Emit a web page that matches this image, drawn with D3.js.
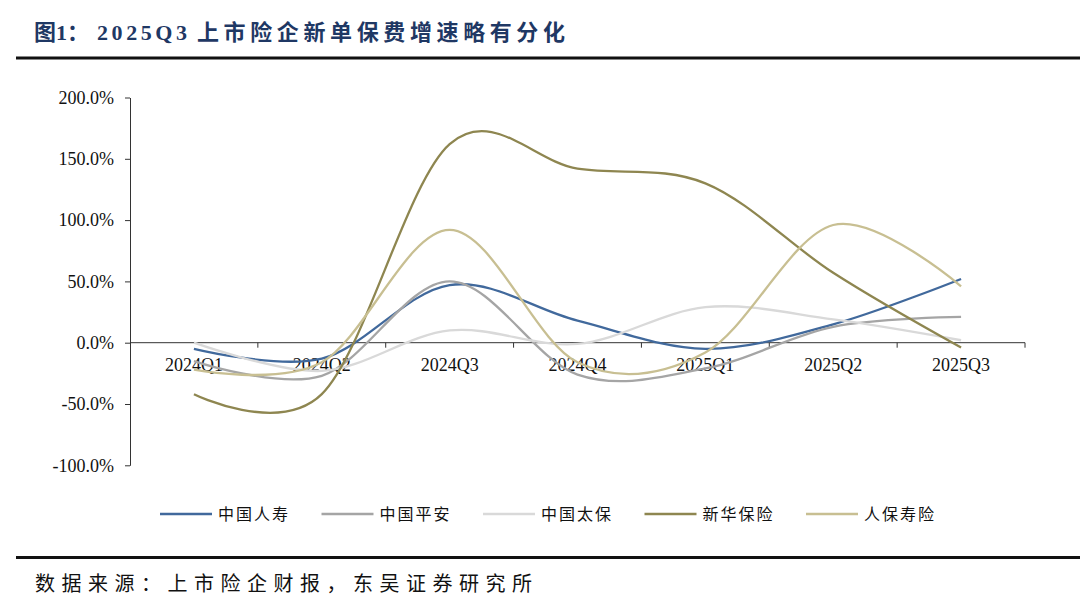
<!DOCTYPE html>
<html>
<head>
<meta charset="utf-8">
<script src="https://cdn.jsdelivr.net/npm/d3@7"></script>
<style>
  body { margin: 0; background: #fff; }
  svg { display: block; }
</style>
</head>
<body>
<div id="chart"></div>
<script>
// quarters on the x axis
var quarters = ["2024Q1", "2024Q2", "2024Q3", "2024Q4", "2025Q1", "2025Q2", "2025Q3"];

// new-business premium growth, %
var chinaLife = [-5, -13, 47, 18, -5, 15, 52];
var pingAn = [-15, -27, 50, -26, -21, 13, 21];
var cpic = [0, -23, 10, -1, 29, 19, 2];
var newChina = [-42, -42, 162, 142, 130, 57, -4];
var piccLife = [-22, -16, 92, -16, -8, 96, 46];

var seriesNames = ["中国人寿", "中国平安", "中国太保", "新华保险", "人保寿险"];
var yTicks = [-100, -50, 0, 50, 100, 150, 200];

var colors = ["#41699c", "#a5a5a5", "#d9d9d9", "#8e8650", "#c8bf92"];
var seriesValues = [chinaLife, pingAn, cpic, newChina, piccLife];

var svgWidth = 1080;
var svgHeight = 612;

var svg = d3.select("#chart")
    .append("svg")
    .attr("width", svgWidth)
    .attr("height", svgHeight);

svg.append("rect")
    .attr("width", svgWidth)
    .attr("height", svgHeight)
    .attr("fill", "#fff");

// title + rule (three pieces so the latin part keeps its own spacing)
var title = svg.append("text")
    .attr("y", 40)
    .attr("font-family", "'Liberation Serif', 'Noto Sans CJK SC', serif")
    .attr("font-weight", "bold")
    .attr("font-size", 22)
    .attr("fill", "#1f3864");

title.append("tspan").attr("x", 34).text("图1：");
title.append("tspan").attr("x", 97)
    .attr("textLength", 90).attr("lengthAdjust", "spacing")
    .text("2025Q3");
title.append("tspan").attr("x", 197)
    .attr("textLength", 368).attr("lengthAdjust", "spacing")
    .text("上市险企新单保费增速略有分化");

svg.append("rect")
    .attr("x", 16).attr("y", 56.5)
    .attr("width", svgWidth - 16).attr("height", 3)
    .attr("fill", "#111");

// scales
var x = d3.scaleBand()
    .domain(quarters)
    .range([130, 1025])
    .paddingInner(0).paddingOuter(0);

var y = d3.scaleLinear()
    .domain([-100, 200])
    .range([465.3, 97.5]);

var cx = function(q) { return x(q) + x.bandwidth() / 2; };

// y axis
var leftAxis = d3.axisLeft(y)
    .tickValues(yTicks)
    .tickSize(5)
    .tickSizeOuter(0)
    .tickPadding(11)
    .tickFormat(function(d) { return d.toFixed(1) + "%"; });

var yAxis = svg.append("g")
    .attr("transform", "translate(130,0)")
    .call(leftAxis);

yAxis.selectAll("text")
    .attr("font-family", "'Liberation Serif', serif")
    .attr("font-size", 18)
    .attr("fill", "#111");
yAxis.selectAll("line, path").attr("stroke", "#333");

// x axis at 0%, labels only, ticks between categories
var bottomAxis = d3.axisBottom(x)
    .tickSize(0)
    .tickSizeOuter(0)
    .tickPadding(16);

var xAxis = svg.append("g")
    .attr("transform", "translate(0," + y(0) + ")")
    .call(bottomAxis);

xAxis.select(".domain").remove();
xAxis.selectAll("text")
    .attr("font-family", "'Liberation Serif', serif")
    .attr("font-size", 18)
    .attr("fill", "#111");

svg.append("line")
    .attr("x1", 130).attr("x2", 1025)
    .attr("y1", y(0)).attr("y2", y(0))
    .attr("stroke", "#333");

var boundaries = quarters.slice(1).map(function(q) { return x(q); });
boundaries.push(x(quarters[quarters.length - 1]) + x.bandwidth());

svg.selectAll(".xtick")
    .data(boundaries)
    .enter()
    .append("line")
    .attr("class", "xtick")
    .attr("x1", function(d) { return d; })
    .attr("x2", function(d) { return d; })
    .attr("y1", y(0))
    .attr("y2", y(0) + 5)
    .attr("stroke", "#333");

// smoothed lines
var line = d3.line()
    .x(function(d, i) { return cx(quarters[i]); })
    .y(function(d) { return y(d); })
    .curve(d3.curveCardinal.tension(0));

svg.selectAll(".series")
    .data(seriesValues)
    .enter()
    .append("path")
    .attr("class", "series")
    .attr("d", function(d) { return line(d); })
    .attr("fill", "none")
    .attr("stroke", function(d, i) { return colors[i]; })
    .attr("stroke-width", 2.3);

// legend
var legend = svg.selectAll(".legend")
    .data(seriesNames)
    .enter()
    .append("g")
    .attr("class", "legend")
    .attr("transform", function(d, i) { return "translate(" + (160 + i * 161.5) + ",514)"; });

legend.append("line")
    .attr("x1", 0).attr("x2", 52)
    .attr("y1", 0).attr("y2", 0)
    .attr("stroke", function(d, i) { return colors[i]; })
    .attr("stroke-width", 2.5);

legend.append("text")
    .attr("x", 58)
    .attr("y", 0)
    .attr("dy", "0.36em")
    .attr("font-family", "'Noto Sans CJK SC', sans-serif")
    .attr("font-size", 16)
    .attr("textLength", 70)
    .attr("lengthAdjust", "spacing")
    .attr("fill", "#111")
    .text(function(d) { return d; });

// source footer
svg.append("rect")
    .attr("x", 16).attr("y", 556)
    .attr("width", svgWidth - 16).attr("height", 3)
    .attr("fill", "#111");

svg.append("text")
    .attr("x", 35)
    .attr("y", 584)
    .attr("dy", "0.36em")
    .attr("font-family", "'Noto Sans CJK SC', sans-serif")
    .attr("font-size", 20)
    .attr("textLength", 497)
    .attr("lengthAdjust", "spacing")
    .attr("fill", "#111")
    .text("数据来源：上市险企财报，东吴证券研究所");
</script>
</body>
</html>
